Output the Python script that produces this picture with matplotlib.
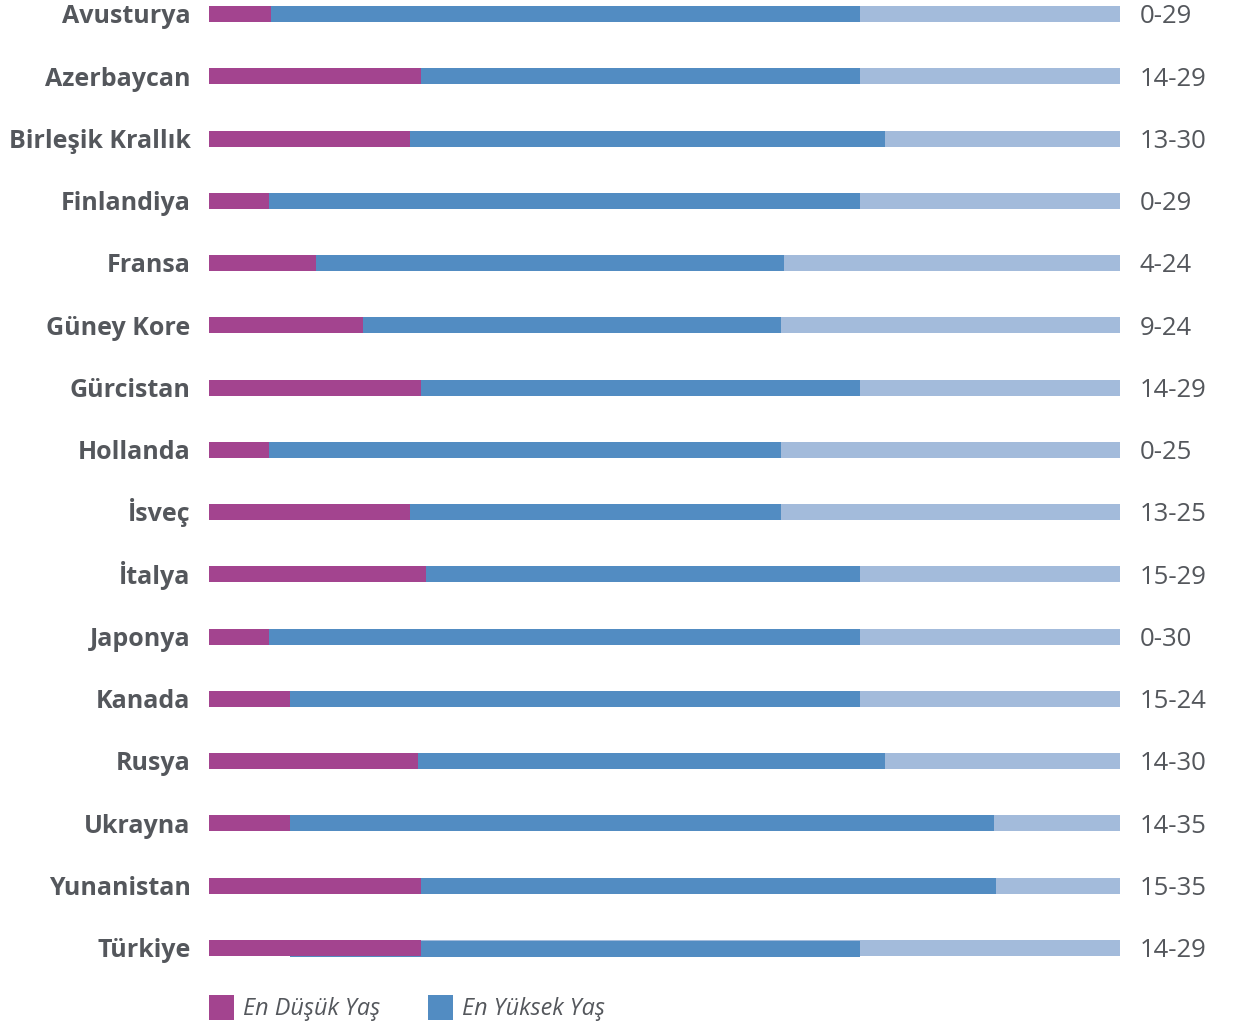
#!/usr/bin/env python3
# yas_araligi.py
import matplotlib.pyplot as plt
from matplotlib.patches import Rectangle

# Bar lengths as drawn in the source (years scale, track runs to ~40.6)
countries = ["Avusturya", "Azerbaycan", "Birleşik Krallık", "Finlandiya", "Fransa",
             "Güney Kore", "Gürcistan", "Hollanda", "İsveç", "İtalya", "Japonya",
             "Kanada", "Rusya", "Ukrayna", "Yunanistan", "Türkiye"]
age_ranges = ["0-29", "14-29", "13-30", "0-29", "4-24", "9-24", "14-29", "0-25",
              "13-25", "15-29", "0-30", "15-24", "14-30", "14-35", "15-35", "14-29"]
low_bar = [2.76, 9.45, 8.96, 2.67, 4.77, 6.86, 9.45, 2.67, 8.96, 9.67, 2.67,
           3.61, 9.31, 3.61, 9.45, 9.45]
high_bar = [29.0, 29.0, 30.12, 29.0, 25.62, 25.49, 29.0, 25.49, 25.49, 29.0, 29.0,
            29.0, 30.12, 34.98, 35.07, 29.0]
high_start = [0, 0, 0, 0, 0, 0, 0, 0, 0, 0, 0, 0, 0, 0, 0, 3.61]
track_max = 40.6

legend_labels = ["En Düşük Yaş", "En Yüksek Yaş"]

MAGENTA = "#A3448F"
BLUE = "#528CC2"
LIGHT = "#A3BBDB"
TEXT = "#54575C"

plt.rcParams['font.family'] = ['Open Sans', 'DejaVu Sans']

fig = plt.figure(figsize=(12.34, 10.24), dpi=100)
ax = fig.add_axes([209 / 1234, 1 - 979 / 1024, 911 / 1234, 979 / 1024])
ax.set_xlim(0, track_max)
ax.set_ylim(15.5, -0.225)
ax.axis('off')

h = 0.257
ys = list(range(len(countries)))
ax.barh(ys, [track_max] * len(ys), height=h, color=LIGHT, linewidth=0)
for i, y in enumerate(ys):
    # the Türkiye blue bar sits a hair lower in the source
    dy = 0.025 if high_start[i] > 0 else 0
    ax.barh(y + dy, high_bar[i] - high_start[i], left=high_start[i], height=h,
            color=BLUE, linewidth=0)
ax.barh(ys, low_bar, height=h, color=MAGENTA, linewidth=0)

base = 0.15  # baseline sits about half a cap height below the bar centre
for y, name, rng in zip(ys, countries, age_ranges):
    ax.text(-18.5 / 22.44, y + base, name, ha='right', va='baseline', fontsize=18,
            fontweight='bold', color=TEXT)
    ax.text(track_max + 20 / 22.44, y + base, rng, ha='left', va='baseline',
            fontsize=18.5, color=TEXT)

# legend drawn by hand to match the source placement
for x0, col, lab in [(209, MAGENTA, legend_labels[0]), (428, BLUE, legend_labels[1])]:
    fig.patches.append(Rectangle((x0 / 1234, 1 - 1020 / 1024), 25 / 1234, 25 / 1024,
                                 transform=fig.transFigure, color=col, linewidth=0))
    fig.text((x0 + 34) / 1234, 1 - 1015 / 1024, lab, ha='left', va='baseline',
             fontsize=16.8, style='italic', color=TEXT)

fig.savefig('out.png', dpi=100)
